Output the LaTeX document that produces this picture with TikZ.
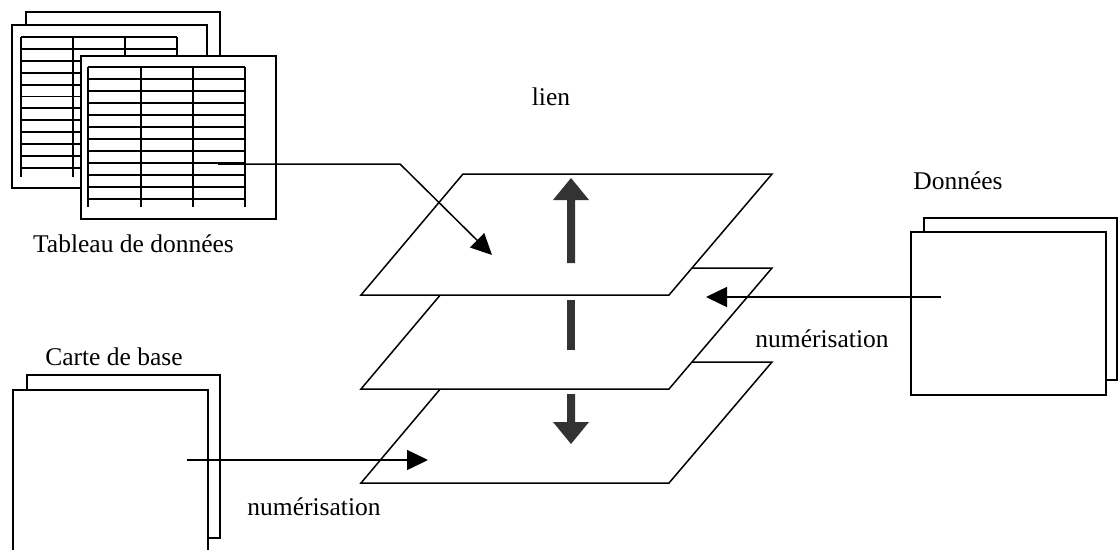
\documentclass[tikz,border=0pt]{standalone}
\usepackage{fontspec}
\setmainfont{Liberation Serif}
\usetikzlibrary{arrows.meta}
\definecolor{darkarrow}{HTML}{333333}
\tikzset{
  sheet/.style={draw=black, fill=white, line width=1.5},
  grid/.style={draw=black, line width=1.9},
  plane/.style={draw=black, fill=white, line width=1.5, line join=miter},
  conn/.style={draw=black, line width=1.5, -{Triangle[length=21,width=20]}},
  fatarrow/.style={draw=none, fill=darkarrow},
  lbl/.style={font=\fontsize{25.5}{28}\selectfont, inner sep=0pt}
}
\begin{document}
\begin{tikzpicture}[x=1pt,y=-1pt]
\useasboundingbox (0,0) rectangle (1118,549);
\clip (0,0) rectangle (1118,549);
% ---------- Tableau de donnees ----------
\draw[sheet] (26,12) rectangle (220,170);
\draw[sheet] (12,25) rectangle (207,188);
\foreach \k in {0,...,11} \draw[grid] (21,{37+11.9*\k}) -- (177,{37+11.9*\k});
\foreach \xx in {21,73,125,177} \draw[grid] (\xx,37) -- (\xx,177);
\node[sheet, anchor=north west, minimum width=195, minimum height=163, inner sep=0pt] (tab) at (80,55) {};
\foreach \k in {0,...,11} \draw[grid] (88,{67+12*\k}) -- (245,{67+12*\k});
\foreach \xx in {88,141,193,245} \draw[grid] (\xx,67) -- (\xx,207);
\coordinate (tabsrc) at (218,164);
\node[lbl] (tablbl) at (133.5,244) {Tableau de données};
% ---------- Carte de base ----------
\draw[sheet] (27,375) rectangle (220,538);
\node[sheet, anchor=north west, minimum width=195, minimum height=180, inner sep=0pt] (carte) at (12,389) {};
\coordinate (cartesrc) at (187,460);
\node[lbl] (cartelbl) at (114,357) {Carte de base};
% ---------- Donnees ----------
\draw[sheet] (924,218) rectangle (1117,380);
\node[sheet, anchor=north west, minimum width=195, minimum height=163, inner sep=0pt] (donnees) at (910,231) {};
\coordinate (donsrc) at (941,297);
\node[lbl] (donlbl) at (958,181) {Données};
% ---------- Planes ----------
\draw[plane] (361,483) -- (669,483) -- (772,362) -- (463,362) -- cycle;
\draw[plane] (361,389) -- (669,389) -- (772,268) -- (463,268) -- cycle;
\draw[plane] (361,295) -- (669,295) -- (772,174) -- (463,174) -- cycle;
\coordinate (topin) at (492,255);
\coordinate (midin) at (706,297);
\coordinate (botin) at (428,460);
\coordinate (bend) at (400,164);
% ---------- lien arrows ----------
\fill[fatarrow] (567,263) -- (567,200) -- (553,200) -- (571,178) -- (589,200) -- (575,200) -- (575,263) -- cycle;
\fill[fatarrow] (567,300) rectangle (575,350);
\fill[fatarrow] (567,394) -- (567,422) -- (553,422) -- (571,444) -- (589,422) -- (575,422) -- (575,394) -- cycle;
\node[lbl] (lien) at (551,97) {lien};
% ---------- connectors ----------
\draw[conn] (tabsrc) -- (bend) -- (topin);
\draw[conn] (donsrc) -- (midin);
\draw[conn] (cartesrc) -- (botin);
\node[lbl] (num1) at (822,339) {numérisation};
\node[lbl] (num2) at (314,507) {numérisation};
\end{tikzpicture}
\end{document}
